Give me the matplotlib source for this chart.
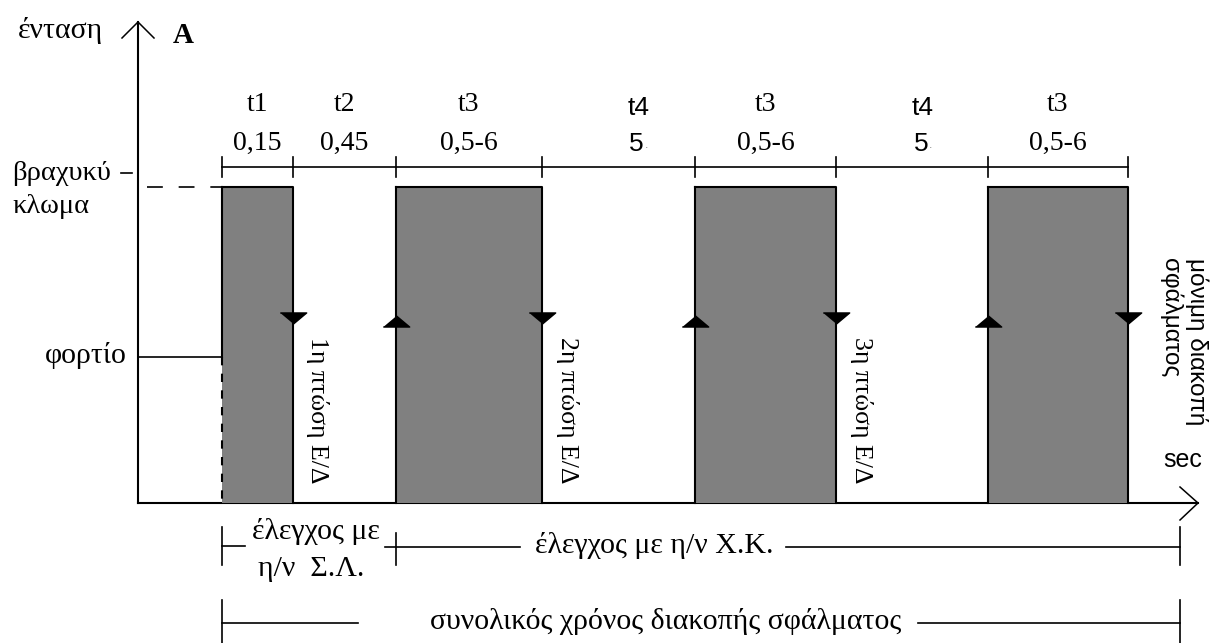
import matplotlib
matplotlib.use("Agg")
import matplotlib.pyplot as plt
from matplotlib.patches import Rectangle

# ---- data (schematic diagram) ----
phase_names = ['t1', 't2', 't3', 't4', 't3', 't4', 't3']
phase_times = ['0,15', '0,45', '0,5-6', '5', '0,5-6', '5', '0,5-6']
phase_bounds = [222, 293, 396, 542, 695, 836, 988, 1128]   # schematic time positions
fault_on = [(222, 293), (396, 542), (695, 836), (988, 1128)]  # short-circuit current intervals
trip_labels = ['1η πτώση Ε/Δ', '2η πτώση Ε/Δ', '3η πτώση Ε/Δ']
final_label = 'μόνιμη διακοπή\nσφάλματος'
fault_level = 316   # current level of short circuit (schematic units)
load_level = 146    # load current level

# layout-only offsets for the phase labels
label_dx = [0, 0, 0, 20, 0, 11, 0]

SERIF = ['Liberation Serif', 'DejaVu Serif']
SANS = ['Liberation Sans', 'DejaVu Sans']
GR = 21.5  # Greek serif text size
LAT = 20   # Latin serif text size

fig = plt.figure(figsize=(12.17, 6.43), dpi=100)
ax = fig.add_axes([0, 0, 1, 1])
ax.set_xlim(0, 1217)
ax.set_ylim(643, 0)
ax.axis('off')

base = 503  # baseline (zero current) in figure rows
x0 = 138    # time origin

def Y(level):
    return base - level

lw = 1.5
k = 'black'

# axes with open arrowheads
ax.plot([x0, x0], [base, 22], color=k, lw=lw)
ax.plot([122, x0, 154], [38, 22, 38], color=k, lw=1.1)
ax.plot([x0, 1198], [base, base], color=k, lw=lw)
ax.plot([1180, 1198, 1180], [487, base, 520], color=k, lw=1.1)

ax.text(18, 38, 'ένταση', fontsize=GR, family=SERIF, ha='left', va='baseline')
ax.text(173, 43, 'A', fontsize=21, family=SERIF, ha='left', va='baseline', weight='bold')
ax.text(1163, 467, 'sec', fontsize=18, family=SANS, ha='left', va='baseline')

# y-level labels
ax.text(12, 180, 'βραχυκύ', fontsize=20.5, family=SERIF, ha='left', va='baseline')
ax.plot([121, 132], [173, 173], color=k, lw=1.2)
ax.text(12, 213, 'κλωμα', fontsize=20.5, family=SERIF, ha='left', va='baseline')
ax.text(127, 363, 'φορτίο', fontsize=GR, family=SERIF, ha='right', va='baseline')

# dashed short-circuit level, load line
ax.plot([147, fault_on[0][0]], [Y(fault_level), Y(fault_level)], color=k, lw=1.2,
        dashes=(9.5, 9.5))
ax.plot([x0, fault_on[0][0]], [Y(load_level), Y(load_level)], color=k, lw=1.2)

tri_down = [(-1, 0.42), (1, 0.42), (0, -0.42)]
tri_up = [(-1, -0.42), (1, -0.42), (0, 0.42)]

# fault current rectangles
for i, (a, b) in enumerate(fault_on):
    ax.add_patch(Rectangle((a, Y(fault_level)), b - a, fault_level,
                           facecolor='#808080', edgecolor='none', zorder=2))
    ax.plot([a, b, b], [Y(fault_level), Y(fault_level), base], color=k, lw=lw, zorder=3)
    if i == 0:
        ax.plot([a, a], [Y(fault_level), Y(load_level)], color=k, lw=lw, zorder=3)
        ax.plot([a, a], [Y(load_level), base], color=k, lw=lw, zorder=3, dashes=(4, 4))
    else:
        ax.plot([a, a], [base, Y(fault_level)], color=k, lw=lw, zorder=3)
        # reclosing (up arrow)
        ax.plot(a, 321, marker=tri_up, markersize=19, color=k, zorder=4, lw=0)
    # tripping (down arrow)
    ax.plot(b, 317.5, marker=tri_down, markersize=19, color=k, zorder=4, lw=0)

# top timeline with ticks
ax.plot([phase_bounds[0], phase_bounds[-1]], [167, 167], color=k, lw=1.2)
for xb in phase_bounds:
    ax.plot([xb, xb], [157, 177], color=k, lw=1.2)
for i, (nm, tm) in enumerate(zip(phase_names, phase_times)):
    xc = (phase_bounds[i] + phase_bounds[i + 1]) / 2 + label_dx[i]
    if nm == 't4':
        ax.text(xc, 115, nm, fontsize=19, family=SANS, ha='center', va='baseline')
        ax.text(xc - 2, 151, tm, fontsize=19, family=SANS, ha='center', va='baseline')
        ax.text(xc + 8, 148, '.', fontsize=9, family=SANS, color='#888888',
                ha='center', va='baseline')
    else:
        ax.text(xc, 111, nm, fontsize=LAT, family=SERIF, ha='center', va='baseline')
        ax.text(xc, 150, tm, fontsize=LAT, family=SERIF, ha='center', va='baseline')

# trip texts (rotated)
for lab, (a, b) in zip(trip_labels, fault_on[:3]):
    ax.text(b + 25, 337, lab, fontsize=18.5, family=SERIF, rotation=-90,
            ha='center', va='top')
ax.text(fault_on[3][1] + 56, 258, final_label, fontsize=17.5, family=SANS, rotation=-90,
        ha='center', va='top', multialignment='left', linespacing=1.15)

# bottom brackets
end_x = 1180
ax.plot([222, 222], [527, 565], color=k, lw=1.2)
ax.plot([222, 245], [546, 546], color=k, lw=1.2)
ax.text(316, 539, 'έλεγχος με', fontsize=GR, family=SERIF, ha='center', va='baseline')
ax.text(311, 576, 'η/ν  Σ.Λ.', fontsize=GR, family=SERIF, ha='center', va='baseline')
ax.plot([396, 396], [533, 565], color=k, lw=1.2)
ax.plot([385, 520], [547, 547], color=k, lw=1.2)
ax.text(535, 553, 'έλεγχος με η/ν Χ.Κ.', fontsize=GR, family=SERIF, ha='left', va='baseline')
ax.plot([786, end_x], [547, 547], color=k, lw=1.2)
ax.plot([end_x, end_x], [527, 565], color=k, lw=1.2)

ax.plot([222, 222], [600, 643], color=k, lw=1.2)
ax.plot([222, 358], [623, 623], color=k, lw=1.2)
ax.text(430, 629, 'συνολικός χρόνος διακοπής σφάλματος', fontsize=GR, family=SERIF,
        ha='left', va='baseline')
ax.plot([918, end_x], [623, 623], color=k, lw=1.2)
ax.plot([end_x, end_x], [600, 643], color=k, lw=1.2)

fig.savefig('out.png', dpi=100)
